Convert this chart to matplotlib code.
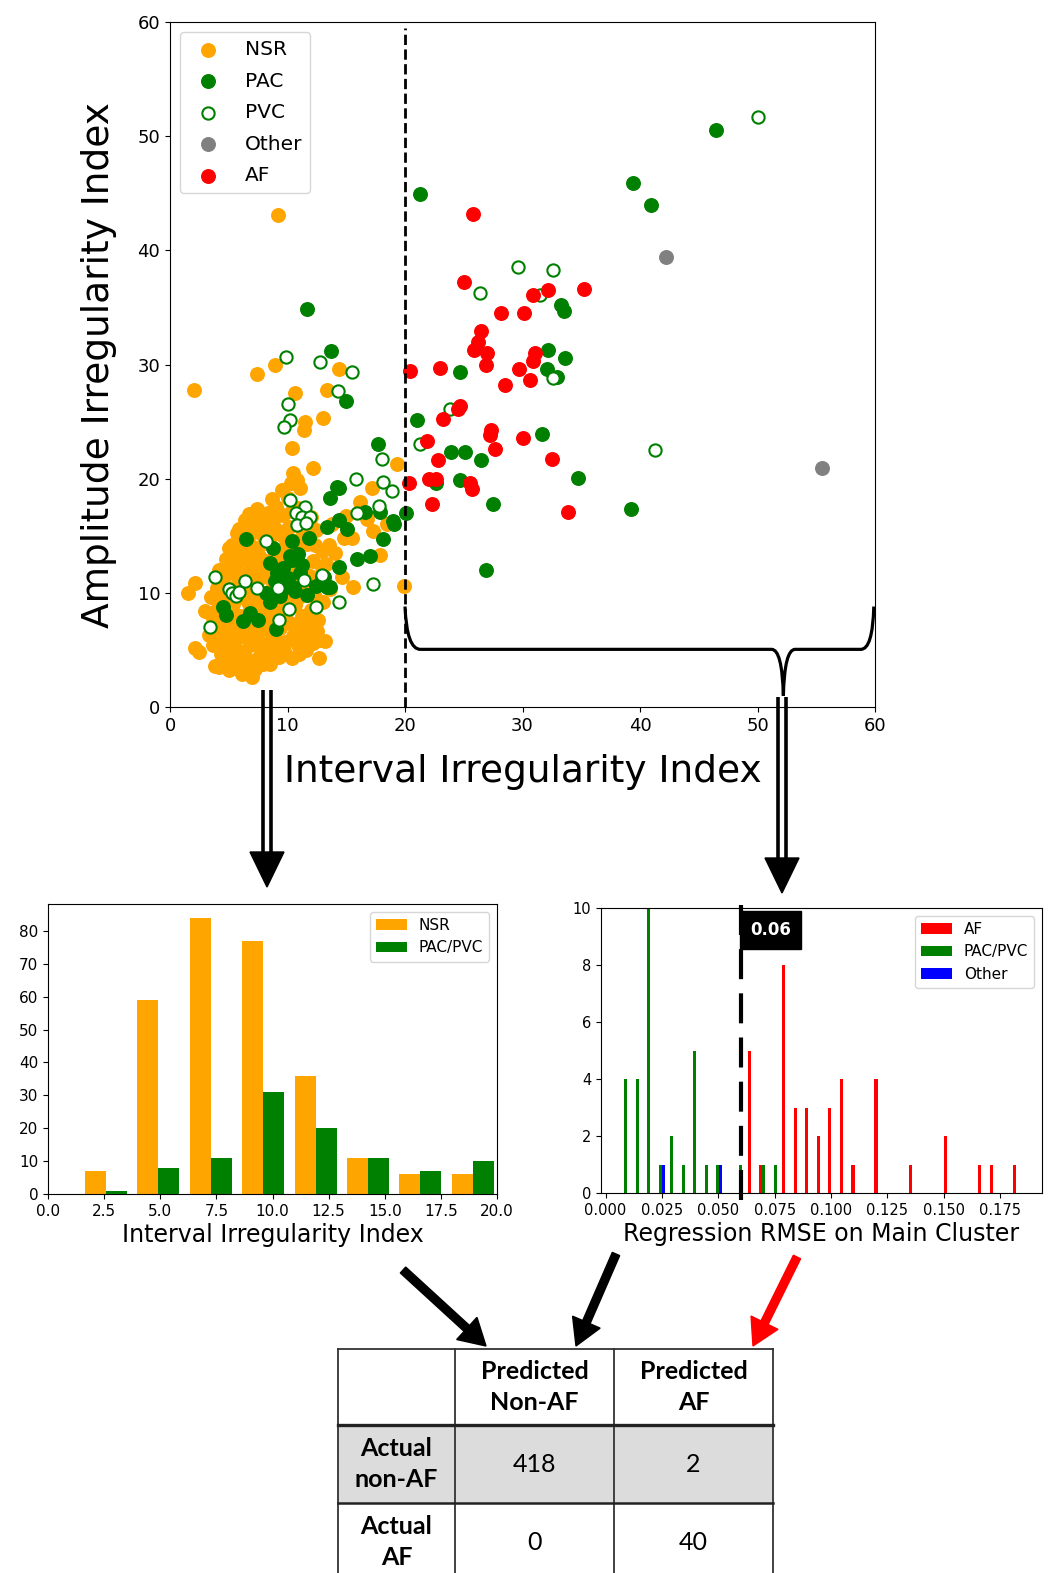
import numpy as np
import matplotlib
matplotlib.use("Agg")
import matplotlib.pyplot as plt
from matplotlib.path import Path
from matplotlib.patches import PathPatch, Polygon, FancyArrow, Rectangle

# ---------------- data ----------------
# scatter: (interval irregularity, amplitude irregularity)
nsr_pts = [
    (1.5, 10.0), (2.1, 10.9), (2.1, 5.2), (2.5, 4.8), (3.0, 8.4), (3.3, 6.3), (3.5, 9.6), (2.0, 27.8),
    (3.8, 3.6), (4.0, 5.5), (3.9, 7.2), (4.1, 8.8), (4.0, 10.4), (4.2, 12.0), (4.5, 4.4), (4.6, 6.3),
    (4.4, 7.9), (4.7, 9.5), (4.5, 11.2), (4.8, 13.0), (4.9, 5.2), (5.0, 7.0), (5.1, 8.4), (5.0, 10.0),
    (5.2, 11.8), (5.3, 14.2), (5.4, 4.0), (5.5, 5.8), (5.6, 7.6), (5.4, 9.0), (5.7, 10.7), (5.5, 12.5),
    (5.8, 13.6), (5.9, 4.9), (6.0, 6.6), (5.9, 8.0), (6.0, 9.6), (5.8, 11.4), (6.0, 12.9), (5.7, 15.2),
    (5.0, 13.9), (5.9, 15.6), (3.9, 11.4), (4.2, 3.5), (5.0, 3.2), (4.4, 5.0),
    (6.1, 2.9), (7.0, 2.6), (6.6, 3.5), (7.4, 4.2), (6.3, 4.6), (7.9, 4.7), (6.8, 5.4), (7.5, 5.9),
    (8.2, 5.4), (6.2, 6.2), (7.1, 6.6), (8.0, 6.9), (6.6, 7.3), (7.6, 7.7), (6.2, 8.0), (7.1, 8.5),
    (8.3, 8.1), (6.7, 9.0), (7.7, 9.3), (6.3, 9.8), (7.3, 10.2), (8.1, 10.0), (6.8, 10.9), (7.8, 11.4),
    (6.3, 11.6), (7.2, 12.0), (8.2, 12.3), (6.7, 12.8), (7.6, 13.2), (6.3, 13.6), (7.1, 14.0), (8.0, 14.4),
    (6.6, 14.9), (7.5, 15.3), (6.2, 15.6), (7.0, 16.2), (7.9, 16.6), (6.7, 16.9), (7.4, 17.3), (8.3, 17.0),
    (7.4, 29.2), (6.9, 11.2), (7.9, 3.8), (8.3, 9.0), (6.4, 16.4),
    (8.9, 30.0), (9.2, 43.1), (10.6, 27.5), (10.4, 22.7), (8.5, 3.8), (9.3, 4.4), (10.4, 4.3), (8.8, 5.2),
    (9.8, 5.7), (10.5, 6.2), (8.6, 6.5), (9.4, 6.9), (10.2, 7.4), (8.9, 7.8), (9.9, 8.3), (10.6, 8.9),
    (8.5, 9.1), (9.3, 9.6), (10.1, 10.1), (8.8, 10.6), (9.7, 11.2), (10.5, 11.8), (8.6, 12.0), (9.4, 12.6),
    (10.2, 13.1), (8.9, 13.5), (9.8, 14.0), (10.6, 14.5), (8.5, 14.9), (9.3, 15.4), (10.1, 15.8), (8.8, 16.3),
    (9.6, 16.8), (10.4, 17.2), (9.0, 17.5), (10.0, 18.3), (9.5, 19.0), (10.3, 19.6), (8.7, 18.2), (10.5, 20.5),
    (11.4, 24.3), (11.5, 25.0), (13.0, 25.3), (12.2, 20.9), (10.8, 19.9), (12.4, 15.5), (12.5, 6.7), (12.8, 5.9),
    (12.7, 4.3), (12.2, 5.6), (11.0, 4.6), (11.5, 6.3), (11.2, 8.0), (12.0, 8.5), (11.0, 9.6), (11.8, 10.4),
    (12.6, 11.0), (11.3, 12.0), (12.2, 12.8), (10.9, 13.6), (11.7, 14.3), (12.9, 13.7), (11.2, 15.6), (12.0, 16.6),
    (10.9, 17.4), (11.1, 19.2), (12.9, 12.3),
    (13.4, 27.8), (14.4, 29.6), (13.5, 14.2), (14.6, 11.4), (13.3, 12.5), (14.0, 13.5), (13.8, 16.0),
    (14.8, 14.8), (15.0, 16.7), (13.6, 10.3), (13.2, 5.8),
    (15.6, 10.5), (16.2, 18.0), (16.8, 16.5), (17.3, 15.4), (17.2, 19.2), (15.5, 14.8),
    (17.9, 13.3), (18.5, 16.0), (19.3, 21.3), (19.9, 10.6),
    (4.3, 4.6), (4.7, 3.9), (5.2, 4.6), (5.8, 3.6), (6.5, 4.0), (7.2, 3.3), (7.7, 5.2), (8.6, 4.6),
    (9.1, 5.8), (9.7, 4.9), (10.9, 5.4), (11.6, 5.0), (3.6, 8.0), (3.7, 5.4), (4.3, 6.8), (5.3, 6.4),
    (6.0, 7.3), (6.9, 7.8), (7.4, 7.0), (8.7, 7.2), (9.7, 7.6), (10.8, 7.1), (11.7, 7.3), (4.6, 10.6),
    (5.2, 9.4), (6.4, 10.5), (7.6, 9.9), (8.0, 8.6), (8.8, 8.5), (9.6, 9.0), (10.9, 10.9), (11.9, 11.5),
    (4.8, 12.1), (5.7, 11.9), (6.8, 11.9), (7.9, 12.9), (9.3, 13.2), (10.2, 12.0), (6.2, 14.3), (6.9, 15.6),
    (7.8, 15.8), (8.6, 15.6), (9.6, 15.0), (11.0, 14.6), (7.2, 16.8), (8.4, 16.2), (12.3, 14.2), (12.3, 9.6),
    (13.0, 9.2), (12.6, 7.6),
]
pac_pts = [
    (21.3, 44.9), (39.4, 45.9), (40.9, 44.0), (46.5, 50.5), (33.3, 35.2), (33.5, 34.7), (32.2, 31.3),
    (33.6, 30.6), (32.1, 29.6), (32.9, 28.9), (24.7, 29.3), (21.0, 25.1), (31.7, 23.9), (23.9, 22.3),
    (25.1, 22.3), (26.5, 21.6), (34.7, 20.1), (22.6, 19.6), (24.7, 19.9), (27.5, 17.8), (39.2, 17.3),
    (20.1, 17.0), (26.9, 12.0),
    (11.7, 34.9), (13.7, 31.2), (15.0, 26.8), (17.7, 23.0), (14.4, 19.2), (13.6, 18.3), (17.9, 17.1),
    (16.6, 17.1), (19.0, 16.3), (19.1, 16.0), (14.4, 16.4), (13.4, 15.8), (15.1, 15.6), (18.1, 14.7),
    (17.0, 13.2), (15.9, 13.0), (14.4, 12.3), (13.4, 10.5), (12.9, 11.4), (9.0, 6.8), (4.5, 8.8),
    (4.8, 8.1), (6.2, 7.5), (6.8, 8.2), (7.5, 7.6), (6.5, 14.7), (8.8, 13.9), (10.4, 14.5), (11.8, 14.8),
    (8.5, 12.6), (10.4, 12.9), (11.2, 12.4), (9.1, 11.7), (10.0, 11.3), (10.5, 10.5), (11.7, 9.8),
    (8.2, 10.0), (8.5, 9.2), (9.4, 9.7), (12.4, 10.6), (13.1, 11.4), (14.2, 19.3), (10.2, 13.2),
    (11.1, 11.7), (9.9, 10.5), (10.6, 10.2), (13.6, 10.5), (9.6, 12.2), (8.9, 11.0), (10.9, 13.4),
]
pvc_pts = [
    (29.6, 38.5), (32.6, 38.3), (26.4, 36.3), (31.5, 36.1), (32.6, 28.8), (23.8, 26.1), (21.3, 23.0),
    (41.3, 22.5), (50.0, 51.7),
    (9.9, 30.7), (12.8, 30.2), (15.5, 29.3), (14.3, 27.7), (10.0, 26.5), (10.2, 25.1), (9.7, 24.5),
    (18.0, 21.7), (15.8, 20.0), (18.1, 19.7), (18.9, 18.9), (17.8, 17.6), (15.9, 17.0), (10.2, 18.1),
    (11.5, 17.5), (10.7, 17.0), (11.2, 16.6), (11.9, 16.6), (10.8, 15.9), (11.6, 16.1), (17.3, 10.8),
    (14.4, 9.2), (12.4, 8.8), (12.9, 11.6), (3.8, 11.4), (3.4, 7.0), (5.0, 10.3), (5.3, 10.0), (5.6, 9.7),
    (5.9, 10.1), (6.4, 11.0), (7.4, 10.4), (9.2, 10.4), (10.1, 8.6), (9.3, 7.6), (8.2, 14.5), (11.4, 11.1),
]
other_pts = [(42.2, 39.4), (55.5, 20.9)]
af_pts = [
    (25.8, 43.2), (25.0, 37.2), (30.9, 36.1), (32.2, 36.5), (35.2, 36.6), (28.2, 34.5), (30.1, 34.5),
    (26.5, 32.9), (26.2, 32.0), (25.9, 31.3), (27.0, 31.0), (26.9, 30.0), (31.1, 31.0), (30.9, 30.3),
    (29.7, 29.6), (30.6, 28.6), (28.5, 28.2), (20.4, 29.4), (23.0, 29.7), (24.7, 26.4), (24.5, 26.1),
    (23.2, 25.2), (27.3, 24.3), (27.2, 23.8), (30.0, 23.6), (21.9, 23.3), (27.7, 22.6), (22.8, 21.6),
    (32.5, 21.7), (22.0, 20.0), (22.6, 20.0), (20.3, 19.6), (25.5, 19.6), (25.7, 19.1), (22.3, 17.8),
    (33.9, 17.1),
]

# left histogram (x < 20)
hist1_lo, hist1_hi = 1.41, 20.09
nsr_counts = [7, 59, 84, 77, 36, 11, 6, 6]
pacpvc_counts = [1, 8, 11, 31, 20, 11, 7, 10]

# right histogram (regression RMSE), 35 bins
hist2_lo, hist2_hi = 0.00634, 0.1852
af_counts = [0, 0, 0, 0, 0, 0, 0, 0, 0, 0, 0, 5, 1, 0, 8, 3, 3, 2, 3, 4, 1, 0, 4, 0, 0, 1, 0, 0, 2, 0, 0, 1, 1, 0, 1]
pp_counts = [4, 4, 10, 1, 2, 1, 5, 1, 1, 0, 1, 0, 1, 1, 0, 0, 0, 0, 0, 0, 0, 0, 0, 0, 0, 0, 0, 0, 0, 0, 0, 0, 0, 0, 0]
oth_counts = [0, 0, 0, 1, 0, 0, 0, 0, 1, 0, 0, 0, 0, 0, 0, 0, 0, 0, 0, 0, 0, 0, 0, 0, 0, 0, 0, 0, 0, 0, 0, 0, 0, 0, 0]
threshold = 0.06

# confusion table
col_labels = ["", "Predicted\nNon-AF", "Predicted\nAF"]
row_labels = ["Actual\nnon-AF", "Actual\nAF"]
cell_values = [[418, 2], [0, 40]]

# ---------------- figure ----------------
W, H = 1053, 1573
fig = plt.figure(figsize=(W / 100, H / 100), dpi=100)


def add_px_axes(l, t, r, b):
    return fig.add_axes([l / W, 1 - b / H, (r - l) / W, (b - t) / H])


# scatter
ax = add_px_axes(170, 22, 875, 707)
ms = 95
ax.scatter(*zip(*nsr_pts), s=ms, color="orange", label="NSR")
ax.scatter(*zip(*pac_pts), s=ms, color="green", label="PAC")
ax.scatter(*zip(*pvc_pts), s=78, facecolors="white", edgecolors="green", linewidths=1.5, label="PVC")
ax.scatter(*zip(*other_pts), s=ms, color="gray", label="Other")
ax.scatter(*zip(*af_pts), s=ms, color="red", label="AF")
ax.plot([20, 20], [0, 59.5], "k--", lw=2)
ax.set_xlim(0, 60)
ax.set_ylim(0, 60)
ax.tick_params(labelsize=13)
ax.set_xlabel("Interval Irregularity Index", fontsize=27, labelpad=14)
ax.set_ylabel("Amplitude Irregularity Index", fontsize=27, labelpad=15)
ax.legend(loc="upper left", fontsize=14.5, labelspacing=0.62)

# curly brace over the x > 20 region
brace_verts = [(20.0, 8.8), (20.15, 5.05), (21.3, 5.05), (51.2, 5.05),
               (52.1, 5.05), (52.2, 1.0), (52.3, 5.05), (53.2, 5.05),
               (58.8, 5.05), (59.8, 5.05), (59.9, 8.8)]
brace_codes = [Path.MOVETO, Path.CURVE3, Path.CURVE3, Path.LINETO,
               Path.CURVE3, Path.CURVE3, Path.CURVE3, Path.CURVE3,
               Path.LINETO, Path.CURVE3, Path.CURVE3]
ax.add_patch(PathPatch(Path(brace_verts, brace_codes), fill=False, lw=2.3,
                       edgecolor="black", clip_on=False))

# left histogram
ax1 = add_px_axes(48, 904, 497, 1194)
edges1 = np.linspace(hist1_lo, hist1_hi, len(nsr_counts) + 1)
mids1 = (edges1[:-1] + edges1[1:]) / 2
ax1.hist([mids1, mids1], bins=edges1, weights=[nsr_counts, pacpvc_counts],
         color=["orange", "green"], label=["NSR", "PAC/PVC"])
ax1.set_xlim(0, 20)
ax1.tick_params(labelsize=11)
ax1.set_xlabel("Interval Irregularity Index", fontsize=17, labelpad=3)
ax1.legend(loc="upper right", fontsize=11)

# right histogram
ax2 = add_px_axes(601, 908, 1042, 1193)
edges2 = np.linspace(hist2_lo, hist2_hi, len(af_counts) + 1)
mids2 = (edges2[:-1] + edges2[1:]) / 2
ax2.hist([mids2, mids2, mids2], bins=edges2, weights=[af_counts, pp_counts, oth_counts],
         color=["red", "green", "blue"], label=["AF", "PAC/PVC", "Other"])
ax2.plot([threshold, threshold], [-0.25, 10.2], color="black", lw=3,
         dashes=(7.2, 3.4), clip_on=False)
ax2.text(0.0731, 9.23, "0.06", color="white", fontweight="bold", fontsize=12,
         ha="center", va="center",
         bbox=dict(boxstyle="square,pad=0.6", fc="black", ec="black"))
ax2.set_ylim(0, 10)
ax2.set_xticks([0, 0.025, 0.05, 0.075, 0.1, 0.125, 0.15, 0.175])
ax2.set_xticklabels(["0.000", "0.025", "0.050", "0.075", "0.100", "0.125", "0.150", "0.175"])
ax2.tick_params(labelsize=10.5)
ax2.set_xlabel("Regression RMSE on Main Cluster", fontsize=17, labelpad=3)
ax2.legend(loc="upper right", fontsize=11)

# overlay in pixel coordinates for arrows and the table
ov = fig.add_axes([0, 0, 1, 1])
ov.set_xlim(0, W)
ov.set_ylim(H, 0)
ov.axis("off")

# double-shaft arrows from the scatter to the histograms
for cx, y0, y1 in [(267, 690, 887), (782, 697, 893)]:
    for dx in (-4, 4):
        ov.plot([cx + dx, cx + dx], [y0, y1 - 32], color="black", lw=2.6,
                solid_capstyle="butt")
    ov.add_patch(Polygon([(cx - 17, y1 - 35), (cx + 17, y1 - 35), (cx, y1)],
                         closed=True, color="black"))

# arrows to the table
arrow_kw = dict(width=8, head_width=30, head_length=26, length_includes_head=True)
ov.add_patch(FancyArrow(403, 1270, 83, 76, color="black", **arrow_kw))
ov.add_patch(FancyArrow(616, 1254, -40, 92, color="black", **arrow_kw))
ov.add_patch(FancyArrow(797, 1257, -44, 89, color="red", **arrow_kw))

# confusion table
col_x = [338, 455, 614, 773]
row_y = [1349, 1425, 1503, 1581]
ov.add_patch(Rectangle((col_x[0], row_y[1]), col_x[-1] - col_x[0], row_y[2] - row_y[1],
                       facecolor="#dcdcdc", edgecolor="none"))
for x in col_x:
    ov.plot([x, x], [row_y[0], row_y[-1]], color="#333333", lw=1.3)
ov.plot([col_x[0], col_x[-1]], [row_y[0], row_y[0]], color="#333333", lw=1.3)
ov.plot([col_x[0], col_x[-1]], [row_y[1], row_y[1]], color="#222222", lw=2.4)
ov.plot([col_x[0], col_x[-1]], [row_y[2], row_y[2]], color="#222222", lw=1.8)

tfont = dict(family="Lato", fontsize=18, ha="center", va="center", linespacing=1.45)
for j, lab in enumerate(col_labels):
    ov.text((col_x[j] + col_x[j + 1]) / 2, (row_y[0] + row_y[1]) / 2, lab,
            fontweight="bold", **tfont)
for i, lab in enumerate(row_labels):
    yc = (row_y[i + 1] + row_y[i + 2]) / 2
    ov.text((col_x[0] + col_x[1]) / 2, yc, lab, fontweight="bold", **tfont)
    for j, v in enumerate(cell_values[i]):
        ov.text((col_x[j + 1] + col_x[j + 2]) / 2, yc, str(v), **tfont)

fig.savefig("out.png", dpi=100)
